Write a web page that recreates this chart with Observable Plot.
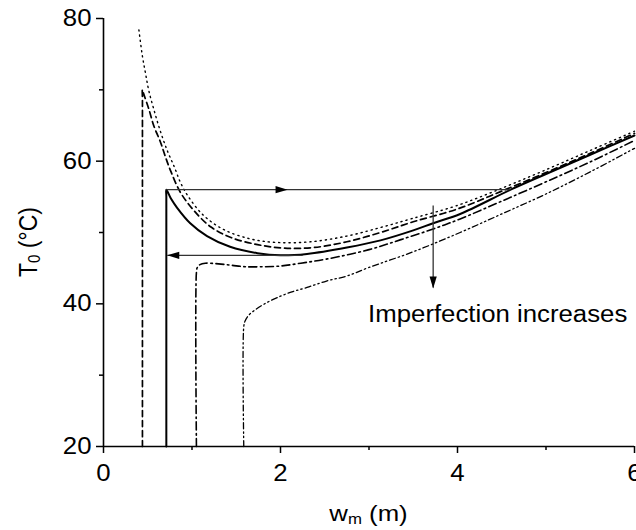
<!DOCTYPE html>
<html>
<head>
<meta charset="utf-8">
<script src="https://cdn.jsdelivr.net/npm/d3@7"></script>
<script src="https://cdn.jsdelivr.net/npm/@observablehq/plot@0.6"></script>
<style>
  body { margin: 0; background: #fff; }
  #chart svg { display: block; }
</style>
</head>
<body>
<div id="chart"></div>
<script>
// Temperature T0 versus wm for increasing imperfection levels
const perfectX = [0.40, 0.44, 0.475, 0.51, 0.57, 0.64, 0.72, 0.80, 0.87, 0.96, 1.13, 1.36, 1.66, 1.96, 2.34, 2.75, 3.13, 3.5, 4.0, 4.5, 5.0, 5.5, 6.0];
const perfectY = [78.4, 74.7, 72.3, 70.0, 67.2, 64.3, 61.5, 59.2, 57.0, 55.0, 52.4, 50.4, 49.1, 48.6, 48.7, 49.5, 50.7, 52.0, 53.8, 56.2, 58.8, 61.5, 64.2];

const level1X = [0.44, 0.44, 0.44, 0.455, 0.51, 0.57, 0.64, 0.70, 0.76, 0.87, 1.02, 1.21, 1.44, 1.74, 2.04, 2.38, 2.75, 3.13, 3.5, 4.0, 4.5, 5.0, 5.5, 6.0];
const level1Y = [20, 68.5, 70.0, 69.4, 67.4, 64.9, 62.8, 60.6, 58.6, 55.6, 53.1, 50.8, 49.3, 48.3, 47.8, 47.9, 48.7, 50.0, 51.5, 53.3, 55.8, 58.4, 61.1, 63.9];

const level2X = [0.71, 0.71, 0.71, 0.76, 0.83, 0.98, 1.17, 1.43, 1.74, 2.0, 2.3, 2.75, 3.13, 3.5, 3.725, 4.03, 4.6, 5.0, 5.5, 6.0];
const level2Y = [20, 55.0, 56.0, 54.8, 53.5, 51.3, 49.5, 48.0, 47.1, 46.8, 47.0, 47.9, 48.9, 50.3, 51.3, 52.6, 56.0, 58.2, 60.9, 63.6];

const level3X = [1.05, 1.05, 1.06, 1.09, 1.15, 1.3, 1.45, 1.6, 1.8, 2.0, 2.23, 2.53, 3.0, 3.36, 3.725, 4.03, 4.5, 5.0, 5.5, 6.0];
const level3Y = [20, 44.4, 45.1, 45.5, 45.7, 45.6, 45.4, 45.2, 45.2, 45.3, 45.7, 46.3, 47.6, 49.0, 50.5, 51.9, 54.4, 57.1, 59.9, 62.9];

const level4X = [1.585, 1.585, 1.6, 1.64, 1.72, 1.82, 1.95, 2.11, 2.3, 2.52, 2.75, 3.0, 3.5, 4.03, 4.5, 5.0, 5.5, 6.0];
const level4Y = [20, 36.8, 37.6, 38.4, 39.2, 40.0, 40.8, 41.6, 42.3, 43.2, 43.9, 45.1, 47.3, 50.0, 52.6, 55.4, 58.5, 61.8];

// Jump paths (heating and cooling) and the trend arrow
const pathX1 = [0.71, 2.25, 3.725];
const pathY1 = [56.0, 46.8, 53.8];
const pathX2 = [4.6, 0.72, 3.725];
const pathY2 = [56.0, 46.8, 42.3];

const headX = [2.08, 0.72, 3.725];
const headY = [56.0, 46.8, 42.15];
const headRotate = [90, -90, 180];

const majorXTicks = [0, 2, 4, 6];
const minorXTicks = [1, 3, 5];
const majorYTicks = [20, 40, 60, 80];
const minorYTicks = [30, 50, 70];

const noteText = ["Imperfection increases"];
const noteX = [2.99];
const noteY = [37.45];

const series = [
  {xs: perfectX, ys: perfectY, dash: "1.2,4", width: 1.4},
  {xs: level1X, ys: level1Y, dash: "6,4", width: 1.7},
  {xs: level2X, ys: level2Y, dash: null, width: 2},
  {xs: level3X, ys: level3Y, dash: "8,3.5,1.6,3.5", width: 1.6},
  {xs: level4X, ys: level4Y, dash: "6,3,1.4,3,1.4,3", width: 1.3}
];

const toRows = (xs, ys) => xs.map((x, i) => ({x, y: ys[i]}));

// Filled, slender arrowhead with its tip at the origin, pointing up
const arrowHead = {
  draw(ctx) {
    ctx.moveTo(0, 0);
    ctx.lineTo(-3.6, 12);
    ctx.lineTo(3.6, 12);
    ctx.closePath();
  }
};

const font = "'Liberation Sans', Arial, sans-serif";
const fontSize = 23;
const widen = 1.12; // glyphs are set a little wider than their natural width

const chart = Plot.plot({
  width: 636,
  height: 530,
  marginLeft: 103,
  marginRight: 2,
  marginTop: 18,
  marginBottom: 84,
  style: {fontFamily: font, fontSize: `${fontSize}px`, background: "white", color: "black", overflow: "visible"},
  x: {domain: [0, 6], label: null},
  y: {domain: [20, 80], label: null},
  marks: [
    ...series.map(s => Plot.line(toRows(s.xs, s.ys), {
      x: "x", y: "y", stroke: "black", strokeWidth: s.width,
      strokeDasharray: s.dash ?? undefined, curve: "catmull-rom"
    })),
    Plot.link(pathX1.map((x, i) => i), {
      x1: i => pathX1[i], y1: i => pathY1[i], x2: i => pathX2[i], y2: i => pathY2[i],
      stroke: "#333", strokeWidth: 1.3
    }),
    Plot.dot(headX.map((x, i) => i), {
      x: i => headX[i], y: i => headY[i], rotate: i => headRotate[i],
      symbol: arrowHead, fill: "black", stroke: "none"
    }),
    Plot.text(noteText, {
      x: (d, i) => noteX[i], y: (d, i) => noteY[i], text: d => d,
      textAnchor: "start", lineAnchor: "bottom", fontSize, fill: "black"
    }),
    Plot.ruleX([0], {stroke: "black", strokeWidth: 1.6}),
    Plot.ruleY([20], {stroke: "black", strokeWidth: 1.6}),
    Plot.axisX(majorXTicks, {tickSize: 7, tickPadding: 11, fontSize, strokeWidth: 1.5, label: null}),
    Plot.axisX(minorXTicks, {tickSize: 4, tickFormat: () => "", strokeWidth: 1.5, label: null}),
    Plot.axisY(majorYTicks, {tickSize: 7, tickPadding: 5, fontSize, strokeWidth: 1.5, label: null}),
    Plot.axisY(minorYTicks, {tickSize: 4, tickFormat: () => "", strokeWidth: 1.5, label: null})
  ]
});

document.getElementById("chart").appendChild(chart);

const svg = d3.select(chart);

// Horizontal texts: stretch glyphs sideways
function widenText(el) {
  const w = el.getComputedTextLength();
  if (w > 0) {
    el.setAttribute("textLength", w * widen);
    el.setAttribute("lengthAdjust", "spacingAndGlyphs");
  }
}
svg.selectAll("text").each(function () { widenText(this); });

// Axis titles with subscripts
const sx = chart.scale("x"), sy = chart.scale("y");
const yMid = (sy.apply(20) + sy.apply(80)) / 2 + 10;
const xMid = (sx.apply(0) + sx.apply(6)) / 2;

const yTitle = svg.append("text")
  .attr("transform", `translate(37,${yMid}) scale(${widen},1) rotate(-90)`)
  .attr("text-anchor", "middle")
  .attr("font-family", font).attr("font-size", fontSize).attr("fill", "black");
yTitle.append("tspan").text("T");
yTitle.append("tspan").attr("font-size", 15).attr("dy", 3).text("0");
yTitle.append("tspan").attr("dy", -3).text(" (°C)");

const xTitle = svg.append("text")
  .attr("transform", `translate(${xMid},521) scale(${widen},1)`)
  .attr("text-anchor", "middle")
  .attr("font-family", font).attr("font-size", fontSize).attr("fill", "black");
xTitle.append("tspan").text("w");
xTitle.append("tspan").attr("font-size", 15).attr("dy", 3).text("m");
xTitle.append("tspan").attr("dy", -3).text(" (m)");
</script>
</body>
</html>
